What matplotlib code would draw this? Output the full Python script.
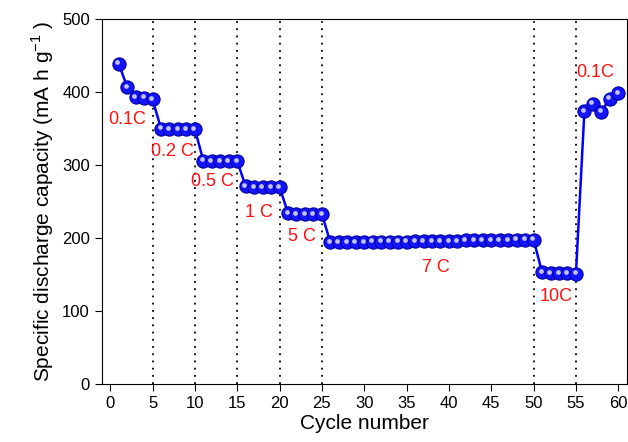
import matplotlib
matplotlib.use("Agg")
import matplotlib.pyplot as plt
import matplotlib.transforms as mtransforms
import numpy as np

plt.rcParams['font.family'] = ['Liberation Sans', 'DejaVu Sans']

# cycle numbers and discharge capacity (mA h g-1)
cycles = list(range(1, 61))
capacity = [439, 407, 393, 392, 390,
            350, 349, 349, 349, 349,
            306, 305, 305, 305, 305,
            271, 270, 270, 270, 270,
            234, 233, 233, 233, 233,
            194, 194, 194, 194, 194, 195, 195, 195, 195, 195,
            196, 196, 196, 196, 196, 196, 197, 197, 197, 197,
            197, 197, 198, 198, 198,
            153, 152, 152, 152, 151,
            374, 384, 373, 391, 398]

rate_bounds = [5, 10, 15, 20, 25, 50, 55]
rate_labels = ['0.1C', '0.2 C', '0.5 C', '1 C', '5 C', '7 C', '10C', '0.1C']
label_x = [2.0, 7.4, 12.1, 17.6, 22.6, 38.5, 52.7, 57.3]
label_y = [362, 319, 278, 235, 202, 160, 120, 427]

fig = plt.figure(figsize=(6.28, 4.42), dpi=100)
ax = fig.add_axes([0.162, 0.131, 0.836, 0.826])

for b in rate_bounds:
    ax.axvline(b, color='black', linestyle=(0, (1, 3)), linewidth=1.3, zorder=1)

ax.plot(cycles, capacity, '-', color='#0000ff', linewidth=1.8, zorder=2)
ax.plot(cycles, capacity, 'o', markersize=9.5, markerfacecolor='#1414ff',
        markeredgecolor='#00009a', markeredgewidth=0.8, zorder=3)
# small highlight to give the spheres a shine
shift = mtransforms.offset_copy(ax.transData, fig=fig, x=-1.0, y=1.0, units='points')
ax.plot(cycles, capacity, 'o', markersize=3.4, markerfacecolor='#c4c4ff',
        markeredgecolor='none', transform=shift, zorder=4)

for t, x, y in zip(rate_labels, label_x, label_y):
    ax.text(x, y, t, color='#ff1010', fontsize=13, ha='center', va='center')

ax.set_xlim(-1, 61)
ax.set_ylim(0, 500)
ax.set_xticks(np.arange(0, 61, 5))
ax.set_yticks(np.arange(0, 501, 100))
ax.tick_params(direction='out', labelsize=12, length=5, top=False, right=False)
ax.set_xlabel('Cycle number', fontsize=15, labelpad=2)
ax.set_ylabel(r'Specific discharge capacity (mA h g$^{\mathregular{-1}}$ )', fontsize=15)

fig.savefig('out.png', dpi=100)
